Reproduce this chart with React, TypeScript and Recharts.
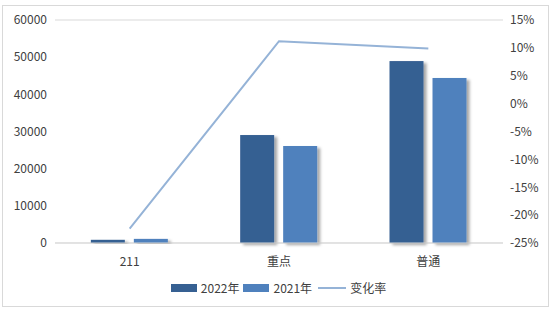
import React from 'react';
import { ComposedChart, Bar, Line, XAxis, YAxis, CartesianGrid, Legend } from 'recharts';

const categories = ['211', '重点', '普通'];
const values2022 = [860, 29050, 48950];
const values2021 = [1110, 26100, 44400];
const changeRate = [-22.4, 11.2, 9.9];
const leftTicks = [0, 10000, 20000, 30000, 40000, 50000, 60000];
const rightTicks = [-25, -20, -15, -10, -5, 0, 5, 10, 15];

const data = categories.map((c, i) => ({
  name: c,
  y2022: values2022[i],
  y2021: values2021[i],
  rate: changeRate[i],
}));

const FONT = '"Noto Sans CJK SC", "Microsoft YaHei", sans-serif';
const TEXT = '#404040';
const DARK = '#366092';
const LIGHT = '#4F81BD';
const LINE = '#95B3D7';

const ShadowBar = (props: any) => {
  const { x, y, width, height, fill } = props;
  if (height <= 0) return null;
  return <rect x={x} y={y} width={width} height={height} fill={fill} filter="url(#barShadow)" />;
};

const LegendContent = () => (
  <div style={{ display: 'flex', justifyContent: 'center', alignItems: 'center', fontFamily: FONT, fontSize: 12, color: TEXT }}>
    <span style={{ display: 'inline-block', width: 26, height: 8, background: DARK, marginRight: 4 }} />
    <span style={{ marginRight: 4 }}>2022年</span>
    <span style={{ display: 'inline-block', width: 26, height: 8, background: LIGHT, marginRight: 4 }} />
    <span style={{ marginRight: 6 }}>2021年</span>
    <span style={{ display: 'inline-block', width: 28, height: 2, background: LINE, marginRight: 4 }} />
    <span>变化率</span>
  </div>
);

export default function App() {
  return (
    <div style={{ position: 'fixed', left: 0, top: 0, width: 557, height: 315, background: '#fff' }}>
      <div style={{ position: 'absolute', left: 2, top: 5, width: 547, height: 302, border: '1px solid #D9D9D9', boxSizing: 'border-box' }} />
      <ComposedChart
        width={557}
        height={315}
        data={data}
        margin={{ top: 20, right: 0, bottom: 42, left: 0 }}
        barGap={9}
        barCategoryGap="24%"
      >
        <defs>
          <filter id="barShadow" x="-20%" y="-5%" width="150%" height="120%">
            <feDropShadow dx="3" dy="2" stdDeviation="1.5" floodColor="#000" floodOpacity="0.35" />
          </filter>
        </defs>
        <CartesianGrid vertical={false} stroke="#D9D9D9" />
        <XAxis
          dataKey="name"
          height={30}
          tickLine={false}
          axisLine={{ stroke: '#D9D9D9' }}
          tick={{ fill: TEXT, fontSize: 12, fontFamily: FONT }}
          tickMargin={8}
        />
        <YAxis
          yAxisId="left"
          width={55}
          domain={[0, 60000]}
          ticks={leftTicks}
          tickLine={false}
          axisLine={false}
          tickSize={0}
          tickMargin={8}
          tick={{ fill: TEXT, fontSize: 12, fontFamily: FONT }}
        />
        <YAxis
          yAxisId="right"
          orientation="right"
          width={54}
          domain={[-25, 15]}
          ticks={rightTicks}
          tickFormatter={(v: number) => `${v}%`}
          tickLine={false}
          axisLine={false}
          tickSize={0}
          tickMargin={7}
          tick={{ fill: TEXT, fontSize: 12, fontFamily: FONT, textAnchor: 'start' }}
        />
        <Bar yAxisId="left" dataKey="y2022" name="2022年" fill={DARK} shape={ShadowBar} isAnimationActive={false} />
        <Bar yAxisId="left" dataKey="y2021" name="2021年" fill={LIGHT} shape={ShadowBar} isAnimationActive={false} />
        <Line yAxisId="right" dataKey="rate" name="变化率" stroke={LINE} strokeWidth={2} dot={false} isAnimationActive={false} />
        <Legend
          layout="horizontal"
          verticalAlign="middle"
          align="center"
          content={LegendContent}
          wrapperStyle={{ top: 279, left: 0, width: 557 }}
        />
      </ComposedChart>
    </div>
  );
}
